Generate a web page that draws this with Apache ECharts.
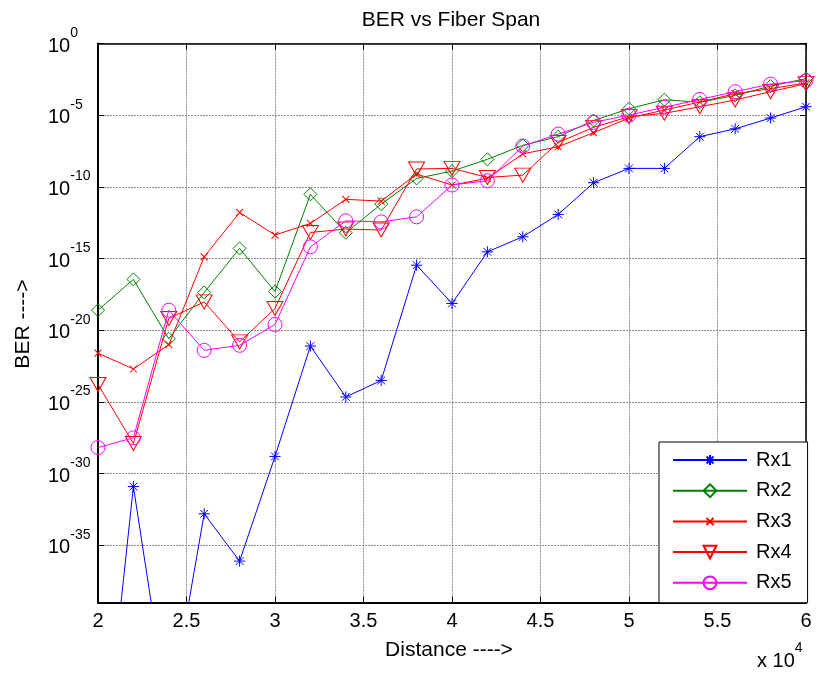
<!DOCTYPE html>
<html>
<head>
<meta charset="utf-8">
<script src="https://cdn.jsdelivr.net/npm/echarts@6/dist/echarts.min.js"></script>
<style>
html,body{margin:0;padding:0;background:#fff;}
#chart{width:816px;height:674px;}
</style>
</head>
<body>
<div id="chart"></div>
<script>
// Distance in metres (axis shows x 10^4)
var distances = [20000, 22000, 24000, 26000, 28000, 30000, 32000, 34000, 36000, 38000, 40000,
                 42000, 44000, 46000, 48000, 50000, 52000, 54000, 56000, 58000, 60000];
// log10(BER)
var rx1LogBer = [-54, -30.9, -47, -32.8, -36.1, -28.8, -21.1, -24.65, -23.5, -15.46, -18.13,
                 -14.53, -13.48, -11.92, -9.71, -8.71, -8.71, -6.5, -5.95, -5.2, -4.41];
var rx2LogBer = [-18.6, -16.45, -20.6, -17.36, -14.29, -17.3, -10.52, -13.2, -11.2, -9.41, -8.9,
                 -8.08, -7.1, -6.5, -5.37, -4.55, -3.92, -4.1, -3.62, -2.97, -2.45];
var rx3LogBer = [-21.6, -22.7, -21.0, -14.88, -11.78, -13.36, -12.55, -10.87, -10.99, -9.11, -9.87,
                 -9.4, -7.7, -7.2, -6.22, -5.2, -4.64, -4.08, -3.5, -3.15, -2.75];
var rx4LogBer = [-23.78, -27.9, -19.18, -18.02, -20.81, -18.48, -13.18, -12.94, -13.01, -8.75, -8.71,
                 -9.34, -9.18, -6.9, -5.85, -5.1, -4.87, -4.41, -3.94, -3.36, -2.8];
var rx5LogBer = [-28.18, -27.5, -18.6, -21.4, -21.05, -19.6, -14.18, -12.37, -12.44, -12.09, -9.87,
                 -9.57, -7.15, -6.32, -5.5, -4.99, -4.45, -3.9, -3.36, -2.83, -2.6];
var seriesNames = ['Rx1', 'Rx2', 'Rx3', 'Rx4', 'Rx5'];
var yTickExponents = [-35, -30, -25, -20, -15, -10, -5, 0];
var xTickLabels = ['2', '2.5', '3', '3.5', '4', '4.5', '5', '5.5', '6'];
var titleText = 'BER vs Fiber Span';
var xAxisTitle = 'Distance ---->';
var yAxisTitle = 'BER ---->';

var FONT = '"Liberation Sans", Arial, Helvetica, sans-serif';
var COLORS = ['#0000ff', '#008000', '#ff0000', '#ff0000', '#ff00ff'];
// invisible zero-length corner segments pad the box so legend icons come out smaller
var SYMBOLS = [
  'path://M0,-10L0,10M-10,0L10,0M-7,-7L7,7M-7,7L7,-7M-13,-13L-13,-13M13,13L13,13',
  'diamond',
  'path://M-10,-10L10,10M-10,10L10,-10M-18,-18L-18,-18M18,18L18,18',
  'path://M-10,-8L10,-8L0,9Z',
  'circle'
];
var SIZES = [14.5, 13, 12.6, [16, 14], 14];

function zip(xs, ys) { return xs.map(function (x, i) { return [x, ys[i]]; }); }
var allData = [rx1LogBer, rx2LogBer, rx3LogBer, rx4LogBer, rx5LogBer];

var rich = {
  b: { fontSize: 20, fontFamily: FONT, color: '#000', lineHeight: 20, padding: [0, 0, 6, 0], verticalAlign: 'bottom' },
  s: { fontSize: 14, fontFamily: FONT, color: '#000', lineHeight: 14, padding: [0, 0, 22, 0], verticalAlign: 'bottom' }
};

var series = allData.map(function (d, i) {
  return {
    name: seriesNames[i],
    type: 'line',
    xAxisIndex: 0,
    yAxisIndex: 0,
    data: zip(distances, d),
    symbol: SYMBOLS[i],
    symbolSize: SIZES[i],
    showAllSymbol: true,
    clip: true,
    lineStyle: { color: COLORS[i], width: 1 },
    itemStyle: { color: 'rgba(0,0,0,0)', borderColor: COLORS[i], borderWidth: 1 },
    emphasis: { disabled: true },
    z: 3 + i
  };
});

var chart = echarts.init(document.getElementById('chart'), null, { renderer: 'canvas' });
chart.setOption({
  animation: false,
  backgroundColor: '#fff',
  textStyle: { fontFamily: FONT },
  grid: { left: 98, right: 10, top: 43.5, bottom: 71.3, containLabel: false },
  xAxis: [{
    type: 'value', min: 20000, max: 60000, interval: 5000, position: 'bottom',
    axisLine: { show: true, onZero: false, lineStyle: { color: '#000', width: 2 } },
    axisTick: { show: true, inside: true, length: 6, lineStyle: { color: '#000', width: 1 } },
    axisLabel: {
      margin: 9, fontSize: 20, color: '#000', fontFamily: FONT,
      formatter: function (v) { return xTickLabels[Math.round((v - 20000) / 5000)]; }
    },
    splitLine: { show: true, lineStyle: { color: '#8c8c8c', width: 1, type: [2, 1] } }
  }, {
    type: 'value', min: 20000, max: 60000, interval: 5000, position: 'top',
    axisLine: { show: true, onZero: false, lineStyle: { color: '#000', width: 1.5 } },
    axisTick: { show: true, inside: true, length: 6, lineStyle: { color: '#000', width: 1 } },
    axisLabel: { show: false }, splitLine: { show: false }
  }],
  yAxis: [{
    type: 'value', min: -39, max: 0, position: 'left',
    axisLine: { show: true, onZero: false, lineStyle: { color: '#000', width: 2 } },
    axisTick: { show: true, inside: true, length: 6, customValues: yTickExponents, lineStyle: { color: '#000', width: 1 } },
    axisLabel: {
      customValues: yTickExponents, margin: 50, align: 'left', verticalAlign: 'middle',
      padding: [17, 0, 0, 0],
      formatter: function (v) { return '{b|10}{s|' + Math.round(v) + '}'; },
      rich: rich
    },
    splitLine: { show: true, lineStyle: { color: '#8c8c8c', width: 1, type: [2, 1] } }
  }, {
    type: 'value', min: -39, max: 0, position: 'right',
    axisLine: { show: true, onZero: false, lineStyle: { color: '#000', width: 1.5 } },
    axisTick: { show: true, inside: true, length: 6, customValues: yTickExponents, lineStyle: { color: '#000', width: 1 } },
    axisLabel: { show: false }, splitLine: { show: false }
  }],
  legend: {
    orient: 'vertical', left: 659, top: 442,
    data: seriesNames,
    itemWidth: 74, itemHeight: 16, itemGap: 10.7,
    padding: [8, 16, 10, 13],
    backgroundColor: '#fff', borderColor: '#000', borderWidth: 1, borderRadius: 0,
    textStyle: { fontSize: 20, color: '#000', fontFamily: FONT, padding: [0, 0, 0, 4] },
    selectedMode: false, z: 20
  },
  graphic: [
    { type: 'text', x: 451, y: 20, z: 30,
      style: { text: titleText, fontSize: 21, fontFamily: FONT, fill: '#000', align: 'center', verticalAlign: 'middle' } },
    { type: 'text', x: 449, y: 650, z: 30,
      style: { text: xAxisTitle, fontSize: 21, fontFamily: FONT, fill: '#000', align: 'center', verticalAlign: 'middle' } },
    { type: 'text', x: 23, y: 324, rotation: Math.PI / 2, z: 30,
      style: { text: yAxisTitle, fontSize: 21, fontFamily: FONT, fill: '#000', align: 'center', verticalAlign: 'middle' } },
    { type: 'text', x: 757, y: 667.5, z: 30,
      style: { text: '{b|x 10}{s|4}', rich: rich, align: 'left', verticalAlign: 'middle' } }
  ],
  series: series
});
</script>
</body>
</html>
